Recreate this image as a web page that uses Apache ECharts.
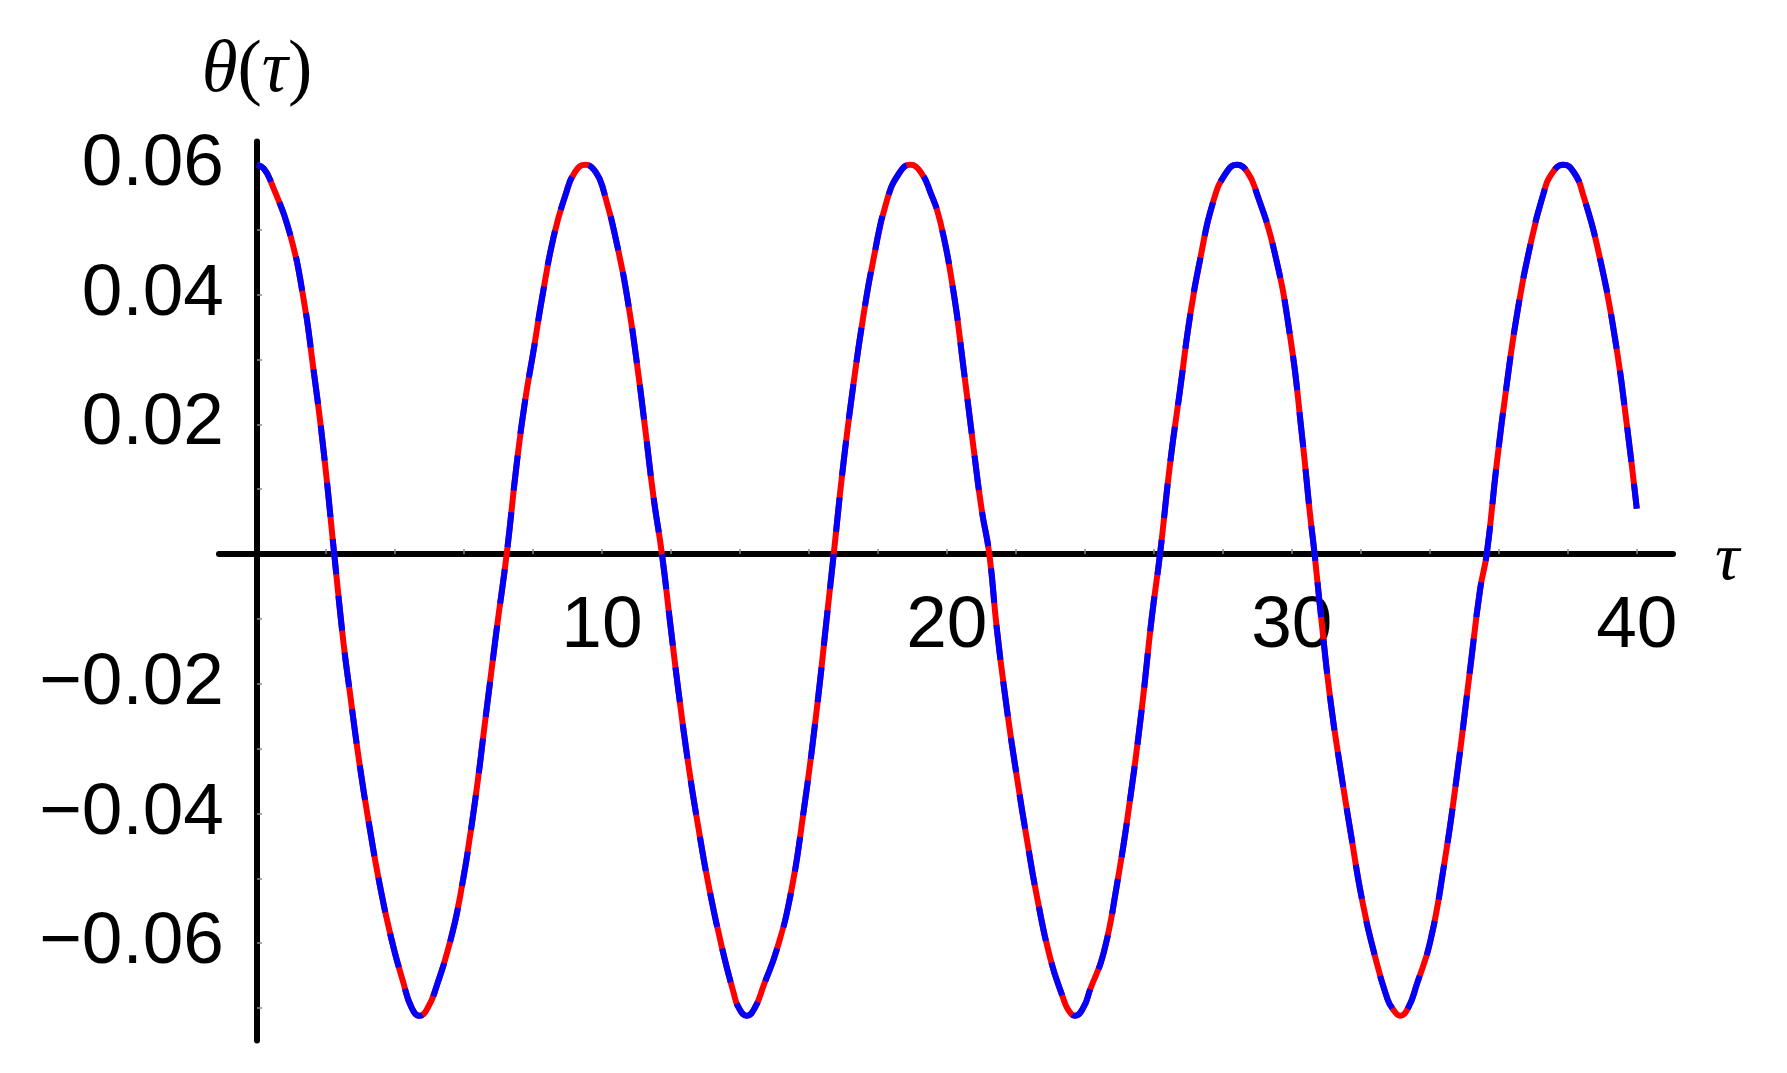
<!DOCTYPE html>
<html>
<head>
<meta charset="utf-8">
<title>theta(tau)</title>
<script src="https://cdn.jsdelivr.net/npm/echarts@6/dist/echarts.min.js"></script>
<style>
  html, body { margin: 0; padding: 0; background: #fff; }
  #chart { width: 1787px; height: 1073px; }
</style>
</head>
<body>
<div id="chart"></div>
<script>
// values (tau, theta)
const tau = [
  0, 0.20, 0.42, 0.95, 1.34, 1.63, 1.92, 2.24, 2.50, 2.69, 2.98, 3.27, 3.56, 3.90, 4.24, 4.48, 4.72, 4.96,
  5.21, 5.60, 5.89, 6.27, 6.66, 6.95, 7.24, 7.53, 7.77, 8.02, 8.26, 8.60, 8.94, 9.22, 9.52, 9.82,
  10.05, 10.48, 10.77, 11.01, 11.26, 11.50, 11.74, 11.98, 12.22, 12.51, 12.80, 13.09, 13.48, 13.82, 13.96, 14.20, 14.44,
  14.69, 15.07, 15.46, 15.85, 16.23, 16.52, 16.72, 17.00, 17.29, 17.58, 17.87, 18.26, 18.64, 18.94, 19.24,
  19.52, 19.81, 20.19, 20.48, 20.77, 21.01, 21.23, 21.45, 21.74, 22.03, 22.32, 22.61, 23.00, 23.38, 23.52, 23.72, 23.96,
  24.15, 24.54, 24.93, 25.31, 25.65, 25.94, 26.18, 26.47, 26.76, 27.05, 27.34, 27.73, 28.11, 28.41, 28.71,
  28.99, 29.47, 29.95, 30.30, 30.52, 30.66, 30.85, 31.13, 31.42, 31.71, 32.05, 32.39, 32.77, 32.92, 33.14, 33.38,
  33.62, 34.01, 34.40, 34.78, 35.17, 35.46, 35.65, 35.94, 36.23, 36.52, 36.86, 37.29, 37.57, 37.87, 38.17,
  38.45, 38.94, 39.37, 39.71, 40.00
];
const theta = [
  0.0600, 0.0594, 0.0572, 0.0495, 0.0397, 0.0288, 0.0165, 0.0000, -0.0133, -0.0212, -0.0326, -0.0423, -0.0510, -0.0594, -0.0660, -0.0699, -0.0712, -0.0699,
  -0.0666, -0.0598, -0.0528, -0.0401, -0.0239, -0.0116, 0.0000, 0.0139, 0.0235, 0.0314, 0.0393, 0.0489, 0.0553, 0.0589, 0.0600, 0.0589,
  0.0560, 0.0467, 0.0384, 0.0296, 0.0191, 0.0086, 0.0000, -0.0107, -0.0212, -0.0326, -0.0423, -0.0510, -0.0607, -0.0677, -0.0699, -0.0712, -0.0699,
  -0.0665, -0.0610, -0.0528, -0.0396, -0.0239, -0.0098, 0.0000, 0.0139, 0.0261, 0.0367, 0.0454, 0.0545, 0.0589, 0.0600, 0.0589,
  0.0558, 0.0512, 0.0405, 0.0288, 0.0165, 0.0068, 0.0000, -0.0116, -0.0239, -0.0344, -0.0440, -0.0528, -0.0624, -0.0686, -0.0703, -0.0712, -0.0699,
  -0.0672, -0.0616, -0.0510, -0.0379, -0.0239, -0.0098, 0.0000, 0.0139, 0.0253, 0.0367, 0.0454, 0.0545, 0.0589, 0.0600, 0.0589,
  0.0555, 0.0472, 0.0336, 0.0180, 0.0065, 0.0000, -0.0098, -0.0230, -0.0335, -0.0431, -0.0537, -0.0616, -0.0686, -0.0701, -0.0712, -0.0699,
  -0.0664, -0.0598, -0.0484, -0.0344, -0.0177, -0.0054, 0.0000, 0.0139, 0.0261, 0.0367, 0.0463, 0.0555, 0.0589, 0.0600, 0.0589,
  0.0553, 0.0454, 0.0332, 0.0200, 0.0070
];

// axis ticks and labels
const xTicks = [2, 4, 6, 8, 10, 12, 14, 16, 18, 20, 22, 24, 26, 28, 30, 32, 34, 36, 38, 40];
const xLabels = [10, 20, 30, 40];
const yTicks = [-0.07, -0.06, -0.05, -0.04, -0.03, -0.02, -0.01, 0.01, 0.02, 0.03, 0.04, 0.05, 0.06];
const yLabels = [-0.06, -0.04, -0.02, 0.02, 0.04, 0.06];

const points = tau.map((t, i) => [t, theta[i]]);

const chart = echarts.init(document.getElementById("chart"));

const labelFont = {
  color: "#000",
  fontFamily: "Liberation Sans",
  fontSize: 73,
};

// the axes cross at the origin: shift them in from the grid edges
const xMin = -1.1, xMax = 41.05, yMin = -0.075, yMax = 0.0636;
const gridLeft = 219, gridRight = 114, gridTop = 141.5, gridBottom = 32.6;
const plotW = 1787 - gridLeft - gridRight;
const plotH = 1073 - gridTop - gridBottom;
const yAxisShift = -(0 - xMin) / (xMax - xMin) * plotW;
const xAxisShift = -(0 - yMin) / (yMax - yMin) * plotH;

const option = {
  backgroundColor: "#fff",
  animation: false,
  grid: {
    left: gridLeft,
    right: gridRight,
    top: gridTop,
    bottom: gridBottom,
    outerBoundsMode: "none",
  },
  xAxis: {
    type: "value",
    min: xMin,
    max: xMax,
    position: "bottom",
    offset: xAxisShift,
    name: "{t|τ}",
    nameLocation: "end",
    nameGap: 42,
    nameTextStyle: {
      verticalAlign: "middle",
      align: "left",
      rich: {
        t: {
          color: "#000",
          fontFamily: "Liberation Serif",
          fontStyle: "italic",
          fontSize: 68,
          padding: [14, 0, 0, 0],
        },
      },
    },
    axisLine: { onZero: false, lineStyle: { color: "#000", width: 6 } },
    axisTick: {
      show: true,
      inside: true,
      length: 5,
      customValues: xTicks,
      lineStyle: { color: "#888", width: 1.5 },
    },
    axisLabel: {
      ...labelFont,
      margin: 36,
      customValues: xLabels,
      formatter: (v) => String(v),
    },
    splitLine: { show: false },
  },
  yAxis: {
    type: "value",
    min: yMin,
    max: yMax,
    position: "left",
    offset: yAxisShift,
    name: "{i|θ}{n|(}{i|τ}{n|)}",
    nameLocation: "end",
    nameGap: 70,
    nameTextStyle: {
      align: "center",
      verticalAlign: "middle",
      rich: {
        i: { fontFamily: "Liberation Serif", fontStyle: "italic", fontSize: 73, color: "#000" },
        n: { fontFamily: "Liberation Serif", fontSize: 73, color: "#000" },
      },
    },
    axisLine: { onZero: false, lineStyle: { color: "#000", width: 6 } },
    axisTick: {
      show: true,
      inside: true,
      length: 5,
      customValues: yTicks,
      lineStyle: { color: "#888", width: 1.5 },
    },
    axisLabel: {
      ...labelFont,
      margin: 33,
      customValues: yLabels,
      formatter: (v) => (v < 0 ? "\u2212" : "") + Math.abs(v).toFixed(2),
    },
    splitLine: { show: false },
  },
  series: [
    {
      name: "red",
      type: "line",
      data: points,
      showSymbol: false,
      smooth: 0.5,
      z: 2,
      itemStyle: { color: "#ff0000" },
      lineStyle: { color: "#ff0000", width: 6 },
    },
    {
      name: "blue",
      type: "line",
      data: points,
      showSymbol: false,
      smooth: 0.5,
      z: 3,
      itemStyle: { color: "#0000ff" },
      lineStyle: { color: "#0000ff", width: 6, type: [35, 22], dashOffset: 12 },
    },
  ],
};

chart.setOption(option);
</script>
</body>
</html>
